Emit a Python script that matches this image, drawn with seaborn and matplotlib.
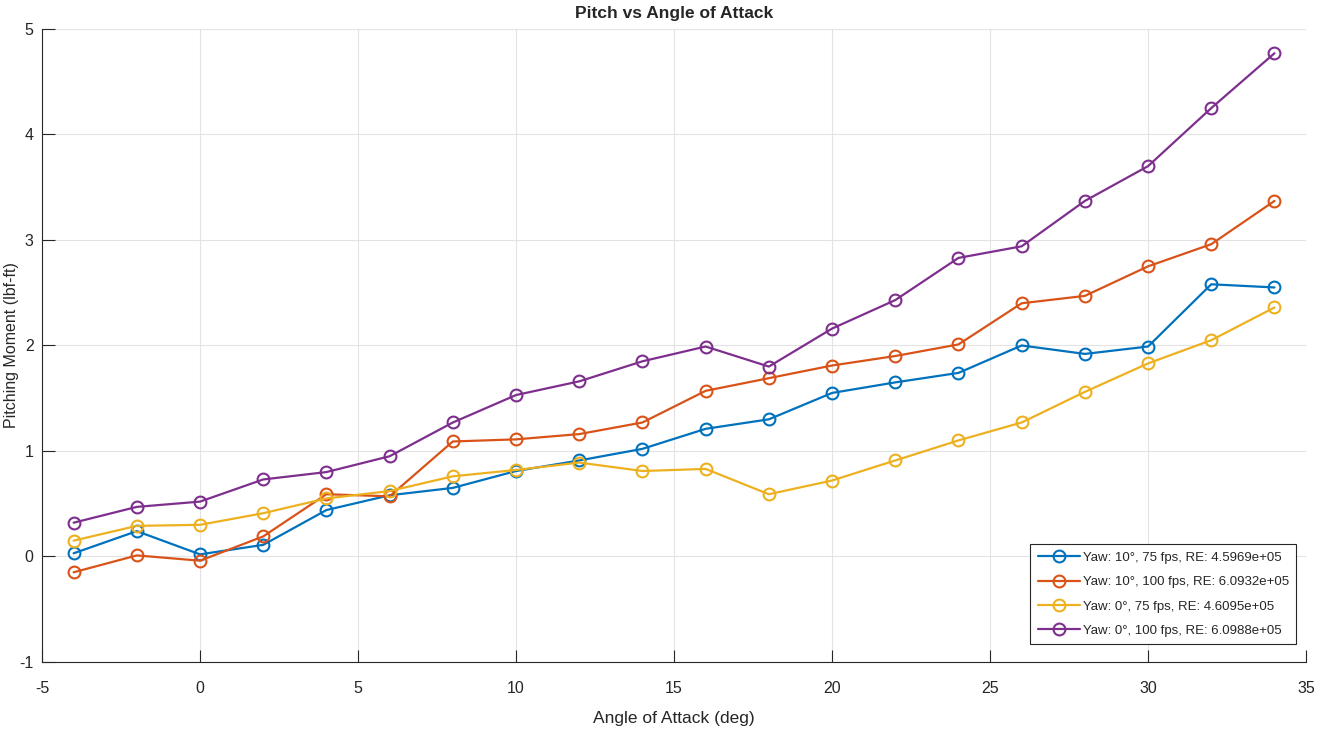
import matplotlib
matplotlib.use("Agg")
import matplotlib.pyplot as plt
import seaborn as sns
import pandas as pd

aoa = [-4, -2, 0, 2, 4, 6, 8, 10, 12, 14, 16, 18, 20, 22, 24, 26, 28, 30, 32, 34]
yaw10_75 = [0.03, 0.24, 0.02, 0.11, 0.44, 0.58, 0.65, 0.81, 0.91, 1.02, 1.21, 1.30, 1.55, 1.65, 1.74, 2.00, 1.92, 1.99, 2.58, 2.55]
yaw10_100 = [-0.15, 0.01, -0.04, 0.19, 0.59, 0.57, 1.09, 1.11, 1.16, 1.27, 1.57, 1.69, 1.81, 1.90, 2.01, 2.40, 2.47, 2.75, 2.96, 3.37]
yaw0_75 = [0.15, 0.29, 0.30, 0.41, 0.55, 0.62, 0.76, 0.82, 0.89, 0.81, 0.83, 0.59, 0.72, 0.91, 1.10, 1.27, 1.56, 1.83, 2.05, 2.36]
yaw0_100 = [0.32, 0.47, 0.52, 0.73, 0.80, 0.95, 1.27, 1.53, 1.66, 1.85, 1.99, 1.80, 2.16, 2.43, 2.83, 2.94, 3.37, 3.70, 4.25, 4.77]
labels = ["Yaw: 10°, 75 fps, RE: 4.5969e+05",
          "Yaw: 10°, 100 fps, RE: 6.0932e+05",
          "Yaw: 0°, 75 fps, RE: 4.6095e+05",
          "Yaw: 0°, 100 fps, RE: 6.0988e+05"]
colors = ["#0072BD", "#D95319", "#EDB120", "#7E2F8E"]
xticks = [-5, 0, 5, 10, 15, 20, 25, 30, 35]
yticks = [-1, 0, 1, 2, 3, 4, 5]

sns.set_style("whitegrid")
plt.rcParams['font.family'] = ['Liberation Sans', 'DejaVu Sans']
plt.rcParams['axes.unicode_minus'] = False

fig = plt.figure(figsize=(13.17, 7.30), dpi=100)
ax = fig.add_axes([0.0319, 0.0932, 0.9598, 0.8671])

series = [yaw10_75, yaw10_100, yaw0_75, yaw0_100]
for vals, lab, col in zip(series, labels, colors):
    df = pd.DataFrame({"aoa": aoa, "m": vals})
    sns.lineplot(data=df, x="aoa", y="m", ax=ax, color=col, lw=1.6,
                 marker="o", markersize=8.5, markerfacecolor="none",
                 markeredgecolor=col, markeredgewidth=1.5, label=lab)

ax.set_xlim(-5, 35)
ax.set_ylim(-1, 5)
ax.set_xticks(xticks)
ax.set_yticks(yticks)
ax.grid(True, color="#e3e3e3", lw=0.8)
for s in ["top", "right"]:
    ax.spines[s].set_visible(False)
for s in ["left", "bottom"]:
    ax.spines[s].set_color("#262626")
    ax.spines[s].set_linewidth(0.8)
ax.tick_params(direction="in", length=9, width=0.8, color="#262626",
               labelsize=11.5, labelcolor="#262626", left=True, bottom=True)
ax.tick_params(axis="x", pad=14)
ax.tick_params(axis="y", pad=6)
ax.set_xlabel("Angle of Attack (deg)", fontsize=12.5, color="#262626")
ax.xaxis.set_label_coords(0.5, -0.078)
ax.set_ylabel("Pitching Moment (lbf-ft)", fontsize=11.5, color="#262626")
ax.yaxis.set_label_coords(-0.018, 0.5)
ax.set_title("Pitch vs Angle of Attack", fontsize=12.5, fontweight="bold", pad=8)

leg = ax.legend(loc="lower right", fontsize=9.5, frameon=True, fancybox=False,
                edgecolor="#262626", framealpha=1, borderpad=0.55,
                handlelength=3.2, handletextpad=0.2, labelspacing=0.92,
                borderaxespad=0, bbox_to_anchor=(0.992, 0.028))
leg.get_frame().set_linewidth(0.8)

fig.savefig("out.png", dpi=100)
